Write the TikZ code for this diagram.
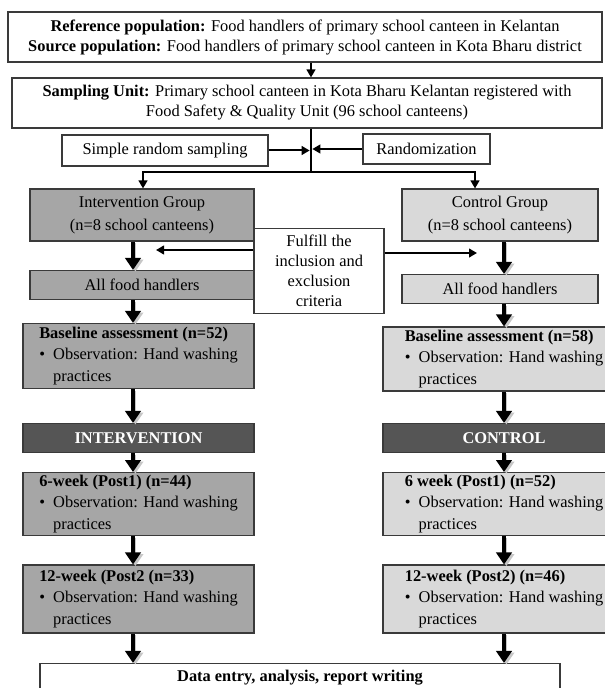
\documentclass[tikz,border=0pt]{standalone}
\usepackage{fontspec}
\setmainfont{Liberation Serif}
\usepackage{xcolor}
\usepackage{tikz}
\usetikzlibrary{positioning,arrows.meta}
\definecolor{IntFill}{HTML}{A6A6A6}
\definecolor{CtrlFill}{HTML}{D9D9D9}
\definecolor{BarFill}{HTML}{555555}
\definecolor{EdgeGray}{HTML}{3A3A3A}
\tikzset{
  plainbox/.style={draw=EdgeGray,fill=white,line width=0.8pt,
    inner sep=2pt,align=center,font=\fontsize{12.3}{15}\selectfont},
  intbox/.style={plainbox,fill=IntFill,font=\fontsize{12.3}{17}\selectfont},
  ctrlbox/.style={plainbox,fill=CtrlFill,font=\fontsize{12.3}{17}\selectfont},
  intlist/.style={intbox,align=left,font=\fontsize{12.3}{16}\selectfont},
  ctrllist/.style={ctrlbox,align=left,font=\fontsize{12.3}{16}\selectfont},
  barbox/.style={draw=EdgeGray,fill=BarFill,line width=0.8pt,
    font=\fontsize{12.3}{15}\selectfont\bfseries\color{white}},
  thinarrow/.style={line width=1.5pt,draw=black,-{Triangle[length=6pt,width=6.5pt]}},
  fatarrow/.style={line width=3pt,draw=black,-{Triangle[length=9pt,width=11.5pt]},
    preaction={draw=black!22,transform canvas={shift={(1.8pt,-1.2pt)}}}},
  splitline/.style={line width=2pt,draw=black,
    {Triangle[length=6pt,width=6.5pt]}-{Triangle[length=6pt,width=6.5pt]}},
}
\newcommand{\obsline}{\textbullet\hspace{0.5em}Observation: Hand washing\\
  \phantom{\textbullet}\hspace{0.5em}practices}

\begin{document}
\begin{tikzpicture}[x=0.75pt,y=-0.75pt]
  \useasboundingbox (0,0) rectangle (604,688);
  \fill[white] (0,0) rectangle (604,688);
  % sampling frame
  \node[plainbox,minimum width=445.5pt,minimum height=37.5pt] (popn) at (305,37)
    {\textbf{Reference population:} Food handlers of primary school canteen in Kelantan\\
     \textbf{Source population:} Food handlers of primary school canteen in Kota Bharu district};
  \node[plainbox,minimum width=442.5pt,minimum height=37.5pt] (unit) at (307,103)
    {\textbf{Sampling Unit:} Primary school canteen in Kota Bharu Kelantan registered with\\
     Food Safety \& Quality Unit (96 school canteens)};
  \node[plainbox,minimum width=154.5pt,minimum height=23.25pt] (srs) at (165,150.5)
    {Simple random sampling};
  \node[plainbox,minimum width=95.25pt,minimum height=22.5pt] (rand) at (426.5,149)
    {Randomization};
  \coordinate (hub) at (311,172);
  \coordinate (splitL) at (143,172);
  \coordinate (splitR) at (475,172);
  % groups
  \node[intbox,minimum width=168pt,minimum height=39pt] (intg) at (142,215)
    {Intervention Group\\(n=8 school canteens)};
  \node[ctrlbox,minimum width=147pt,minimum height=39pt] (ctrlg) at (500,215)
    {Control Group\\(n=8 school canteens)};
  \node[plainbox,minimum width=97.5pt,minimum height=63.75pt] (crit) at (319,271)
    {Fulfill the\\inclusion and\\exclusion\\criteria};
  \coordinate (critL) at (156,250);
  \coordinate (critR) at (477,253);
  \node[intbox,minimum width=168pt,minimum height=21.75pt] (intafh) at (142,285)
    {All food handlers};
  \node[ctrlbox,minimum width=147pt,minimum height=21.75pt] (ctrlafh) at (500,289)
    {All food handlers};
  % intervention arm
  \node[intlist,minimum width=173.25pt,minimum height=48.75pt] (intbase) at (138.5,356)
    {\textbf{Baseline assessment (n=52)}\\\obsline};
  \node[barbox,minimum width=173.25pt,minimum height=21.75pt] (intbar) at (138.5,438)
    {INTERVENTION};
  \node[intlist,minimum width=173.25pt,minimum height=45.75pt] (intpost1) at (138.5,504)
    {\textbf{6-week (Post1) (n=44)}\\\obsline};
  \node[intlist,minimum width=173.25pt,minimum height=51pt] (intpost2) at (138.5,599)
    {\textbf{12-week (Post2 (n=33)}\\\obsline};
  % control arm
  \node[ctrllist,minimum width=181.5pt,minimum height=48pt] (ctrlbase) at (504,359)
    {\textbf{Baseline assessment (n=58)}\\\obsline};
  \node[barbox,minimum width=181.5pt,minimum height=21.75pt] (ctrlbar) at (504,438)
    {CONTROL};
  \node[ctrllist,minimum width=181.5pt,minimum height=45.75pt] (ctrlpost1) at (504,504)
    {\textbf{6 week (Post1) (n=52)}\\\obsline};
  \node[ctrllist,minimum width=181.5pt,minimum height=51pt] (ctrlpost2) at (504,599)
    {\textbf{12-week (Post2) (n=46)}\\\obsline};
  \node[plainbox,minimum width=390pt,minimum height=21.75pt] (report) at (300,678)
    {\textbf{Data entry, analysis, report writing}};
  \coordinate (ci) at (133,0);
  \coordinate (cc) at (504,0);
  % connectors
  \draw[thinarrow] (popn.south -| hub) -- (unit.north -| hub);
  \draw[line width=2pt] (unit.south -| hub) -- (hub);
  \draw[thinarrow] (srs.east) -- ([xshift=-1pt]srs.east -| hub);
  \draw[thinarrow] (rand.west) -- ([xshift=1pt]rand.west -| hub);
  \draw[splitline] (intg.north -| splitL) -- (splitL) -- (splitR) -- (ctrlg.north -| splitR);
  \draw[thinarrow] (crit.west |- critL) -- (critL);
  \draw[thinarrow] (crit.east |- critR) -- (critR);
  \draw[fatarrow] (intg.south -| ci) -- (intafh.north -| ci);
  \draw[fatarrow] (intafh.south -| ci) -- (intbase.north -| ci);
  \draw[fatarrow] (intbase.south -| ci) -- (intbar.north -| ci);
  \draw[fatarrow] (intbar.south -| ci) -- (intpost1.north -| ci);
  \draw[fatarrow] (intpost1.south -| ci) -- (intpost2.north -| ci);
  \draw[fatarrow] (intpost2.south -| ci) -- (report.north -| ci);
  \draw[fatarrow] (ctrlg.south -| cc) -- (ctrlafh.north -| cc);
  \draw[fatarrow] (ctrlafh.south -| cc) -- (ctrlbase.north -| cc);
  \draw[fatarrow] (ctrlbase.south -| cc) -- (ctrlbar.north -| cc);
  \draw[fatarrow] (ctrlbar.south -| cc) -- (ctrlpost1.north -| cc);
  \draw[fatarrow] (ctrlpost1.south -| cc) -- (ctrlpost2.north -| cc);
  \draw[fatarrow] (ctrlpost2.south -| cc) -- (report.north -| cc);
\end{tikzpicture}
\end{document}
